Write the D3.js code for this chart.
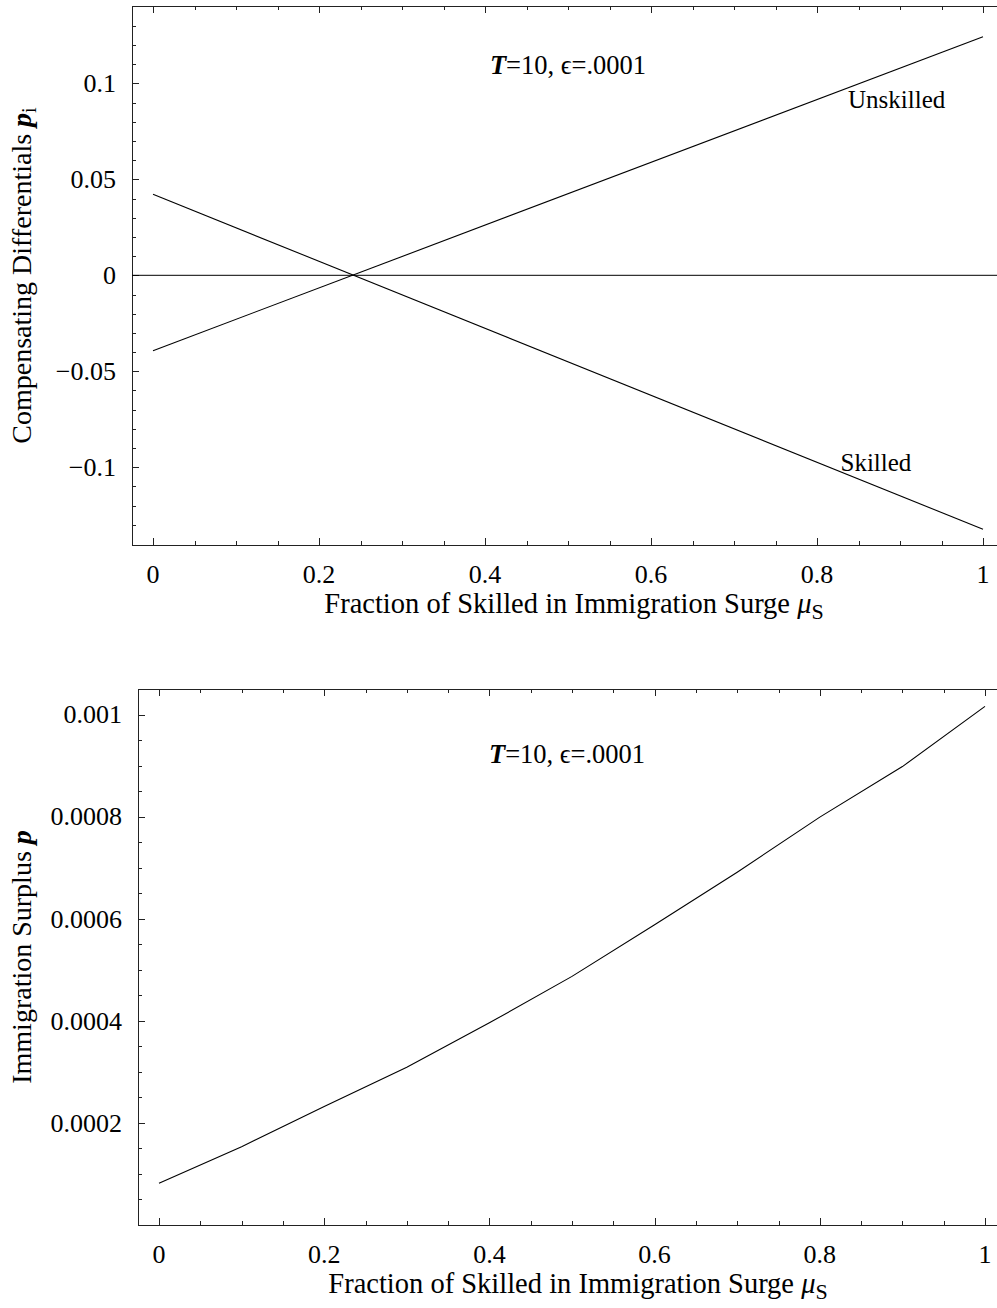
<!DOCTYPE html>
<html>
<head>
<meta charset="utf-8">
<script src="https://cdn.jsdelivr.net/npm/d3@7"></script>
<style>
body { margin: 0; background: #fff; }
svg text { font-family: "Liberation Serif", "Times New Roman", Times, serif; fill: #000; }
.frame line, .frame path { stroke: #222; shape-rendering: crispEdges; }
</style>
</head>
<body>
<div id="chart"></div>
<script>
// data
var muS = [0, 1];
var skilled = [0.0422, -0.1323];
var unskilled = [-0.0393, 0.1243];

var muSurplus = [0, 0.1, 0.2, 0.3, 0.4, 0.5, 0.6, 0.7, 0.8, 0.9, 1];
var surplus = [0.0000817, 0.0001535, 0.000232, 0.000309, 0.000396, 0.000487, 0.000588, 0.000691, 0.000799, 0.000898, 0.001016];

var xTicks = [0, 0.2, 0.4, 0.6, 0.8, 1];
var xTickLabels = ["0", "0.2", "0.4", "0.6", "0.8", "1"];
var y1Ticks = [-0.1, -0.05, 0, 0.05, 0.1];
var y1TickLabels = ["\u22120.1", "\u22120.05", "0", "0.05", "0.1"];
var y2Ticks = [0.0002, 0.0004, 0.0006, 0.0008, 0.001];
var y2TickLabels = ["0.0002", "0.0004", "0.0006", "0.0008", "0.001"];

var W = 997, H = 1308;
var serif = '"Liberation Serif", "Times New Roman", Times, serif';
var svg = d3.select("#chart").append("svg").attr("width", W).attr("height", H)
	.attr("font-family", serif);

function range(a, b, step) { // minor tick values
	var out = [];
	for (var i = Math.round(a / step); i * step <= b + step / 1000; i++) out.push(+(i * step).toFixed(8));
	return out;
}

// draws one framed panel; returns scales
function panel(o) {
	var g = svg.append("g").attr("class", "frame");
	var x = d3.scaleLinear().domain([0, 1]).range([o.x0, o.x1]);
	var y = d3.scaleLinear().domain(o.ydom).range([o.bottom, o.top]);

	// frame lines (right side is cut off in the original)
	g.append("line").attr("x1", o.left).attr("x2", W).attr("y1", o.bottom).attr("y2", o.bottom);
	g.append("line").attr("x1", o.left).attr("x2", W).attr("y1", o.top).attr("y2", o.top);
	g.append("line").attr("x1", o.left).attr("x2", o.left).attr("y1", o.top).attr("y2", o.bottom);

	var xMinor = range(0, 1, 0.05);
	var yMinor = range(o.ydom[0], o.ydom[1], o.yMinorStep).filter(function(v) { return y(v) > o.top + 1 && y(v) < o.bottom - 1; });

	// bottom ticks
	g.append("g").attr("transform", "translate(0," + o.bottom + ")")
		.call(d3.axisTop(x).tickValues(xMinor).tickSize(4).tickFormat(""));
	g.append("g").attr("transform", "translate(0," + o.bottom + ")")
		.call(d3.axisTop(x).tickValues(xTicks).tickSize(7).tickFormat(""));
	// top ticks
	g.append("g").attr("transform", "translate(0," + o.top + ")")
		.call(d3.axisBottom(x).tickValues(xMinor).tickSize(4).tickFormat(""));
	g.append("g").attr("transform", "translate(0," + o.top + ")")
		.call(d3.axisBottom(x).tickValues(xTicks).tickSize(7).tickFormat(""));
	// left ticks
	g.append("g").attr("transform", "translate(" + o.left + ",0)")
		.call(d3.axisRight(y).tickValues(yMinor).tickSize(4).tickFormat(""));
	g.append("g").attr("transform", "translate(" + o.left + ",0)")
		.call(d3.axisRight(y).tickValues(o.yTicks).tickSize(7).tickFormat(""));
	g.selectAll(".domain").remove();

	// tick labels
	svg.selectAll(null).data(xTicks).enter().append("text")
		.attr("x", function(d) { return x(d); })
		.attr("y", o.bottom + 38)
		.attr("text-anchor", "middle")
		.style("font-family", serif)
		.style("font-size", "26px")
		.text(function(d, i) { return xTickLabels[i]; });
	svg.selectAll(null).data(o.yTicks).enter().append("text")
		.attr("x", o.left - 16)
		.attr("y", function(d) { return y(d); })
		.attr("dy", "0.34em")
		.attr("text-anchor", "end")
		.style("font-family", serif)
		.style("font-size", "26px")
		.text(function(d, i) { return o.yTickLabels[i]; });

	// x label
	var xl = svg.append("text")
		.attr("x", (o.x0 + o.x1) / 2 + 6)
		.attr("y", o.bottom + 68)
		.attr("text-anchor", "middle")
		.style("font-family", serif)
		.style("font-size", "28.5px");
	xl.append("tspan").text("Fraction of Skilled in Immigration Surge ");
	xl.append("tspan").style("font-style", "italic").text("\u03bc");
	xl.append("tspan").attr("dy", 6).style("font-size", "22px").text("S");

	return { x: x, y: y };
}

// top panel
var p1 = panel({ left: 132, top: 6, bottom: 545, x0: 153, x1: 983,
	ydom: [-0.1405, 0.1403], yTicks: y1Ticks, yTickLabels: y1TickLabels, yMinorStep: 0.01 });

svg.append("line")
	.attr("x1", 132).attr("x2", W)
	.attr("y1", p1.y(0)).attr("y2", p1.y(0))
	.attr("stroke", "#000").attr("stroke-width", 1);

var line1 = d3.line().x(function(d) { return p1.x(d[0]); }).y(function(d) { return p1.y(d[1]); });
[skilled, unskilled].forEach(function(s) {
	svg.append("path")
		.datum(muS.map(function(m, i) { return [m, s[i]]; }))
		.attr("d", line1)
		.attr("fill", "none").attr("stroke", "#000").attr("stroke-width", 1.1);
});

svg.append("text").attr("x", p1.x(0.896)).attr("y", 108).attr("text-anchor", "middle")
	.style("font-family", serif).style("font-size", "25px").text("Unskilled");
svg.append("text").attr("x", p1.x(0.871)).attr("y", 471).attr("text-anchor", "middle")
	.style("font-family", serif).style("font-size", "25px").text("Skilled");

function note(x, y) {
	var t = svg.append("text").attr("x", x).attr("y", y).attr("text-anchor", "middle")
		.style("font-family", serif).style("font-size", "26.5px");
	t.append("tspan").style("font-style", "italic").style("font-weight", "bold").text("T");
	t.append("tspan").text("=10, \u03f5=.0001");
}
note(p1.x(0.5), 74);

var yl1 = svg.append("text")
	.attr("transform", "translate(31," + (6 + 545) / 2 + ") rotate(-90)")
	.attr("text-anchor", "middle")
	.style("font-family", serif)
	.style("font-size", "28px");
yl1.append("tspan").text("Compensating Differentials ");
yl1.append("tspan").style("font-style", "italic").style("font-weight", "bold").text("p");
yl1.append("tspan").attr("dy", 5).style("font-size", "20px").text("i");

// bottom panel
var p2 = panel({ left: 138, top: 689, bottom: 1225, x0: 159, x1: 985,
	ydom: [0, 0.00105], yTicks: y2Ticks, yTickLabels: y2TickLabels, yMinorStep: 0.00005 });

var line2 = d3.line().x(function(d) { return p2.x(d[0]); }).y(function(d) { return p2.y(d[1]); });
svg.append("path")
	.datum(muSurplus.map(function(m, i) { return [m, surplus[i]]; }))
	.attr("d", line2)
	.attr("fill", "none").attr("stroke", "#000").attr("stroke-width", 1.1);

note(p2.x(0.494), 763);

var yl2 = svg.append("text")
	.attr("transform", "translate(31," + (689 + 1225) / 2 + ") rotate(-90)")
	.attr("text-anchor", "middle")
	.style("font-family", serif)
	.style("font-size", "28px");
yl2.append("tspan").text("Immigration Surplus ");
yl2.append("tspan").style("font-style", "italic").style("font-weight", "bold").text("p");
</script>
</body>
</html>
